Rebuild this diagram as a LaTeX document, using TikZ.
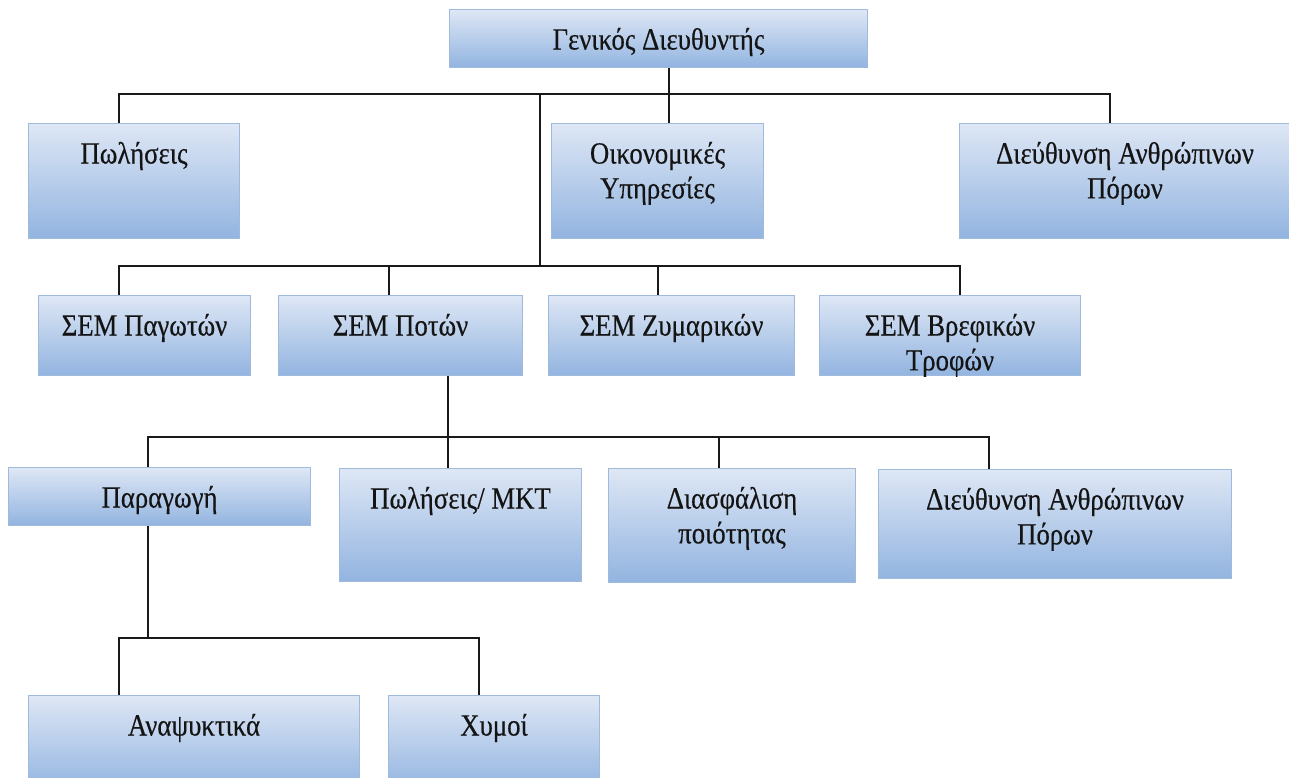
\documentclass[tikz,border=0pt]{standalone}
\usepackage{fontspec}
\setmainfont{Liberation Serif}[FakeStretch=0.87,FakeBold=0.4]
\definecolor{orgtop}{RGB}{222,231,245}
\definecolor{orgbot}{RGB}{146,180,224}
\definecolor{orgedge}{RGB}{160,186,220}
\definecolor{orgtext}{RGB}{20,20,20}
\usetikzlibrary{calc}
% one reference pixel
\newlength\orgpx
\setlength\orgpx{0.02cm}
% box body: width, height (px), text near the top
\newcommand\orgtext[3]{\parbox[c][#2\orgpx][t]{#1\orgpx}{\centering\rule{0pt}{40\orgpx}#3}}

\begin{document}
\begin{tikzpicture}[x=0.02cm,y=-0.02cm,
    unit/.style={draw=orgedge,line width=0.6pt,top color=orgtop,bottom color=orgbot,
                 inner sep=0pt,anchor=north west,text=orgtext,
                 font=\fontsize{17.5}{19.84}\selectfont},
    conn/.style={line width=1.1pt,black!90}]
  \useasboundingbox (0,0) rectangle (1289,778);
  %% Top
  \node[unit] (gd) at (449,9) {\orgtext{418}{58}{Γενικός Διευθυντής}};
  %% Level 1
  \node[unit] (pol)  at (28,123)  {\orgtext{211}{115}{Πωλήσεις}};
  \node[unit] (oik)  at (551,123) {\orgtext{212}{115}{Οικονομικές\\Υπηρεσίες}};
  \node[unit] (dap1) at (959,123) {\orgtext{331}{115}{Διεύθυνση Ανθρώπινων\\Πόρων}};
  %% Level 2
  \node[unit] (pag) at (38,295)  {\orgtext{212}{80}{ΣΕΜ Παγωτών}};
  \node[unit] (pot) at (278,295) {\orgtext{244}{80}{ΣΕΜ Ποτών}};
  \node[unit] (zym) at (548,295) {\orgtext{246}{80}{ΣΕΜ Ζυμαρικών}};
  \node[unit] (vre) at (819,295) {\orgtext{261}{80}{ΣΕΜ Βρεφικών\\Τροφών}};
  %% Level 3
  \node[unit] (par)  at (8,467)   {\orgtext{302}{58}{Παραγωγή}};
  \node[unit] (mkt)  at (339,468) {\orgtext{242}{113}{Πωλήσεις/ MKT}};
  \node[unit] (dia)  at (608,468) {\orgtext{247}{114}{Διασφάλιση\\ποιότητας}};
  \node[unit] (dap2) at (878,469) {\orgtext{353}{109}{Διεύθυνση Ανθρώπινων\\Πόρων}};
  %% Level 4
  \node[unit] (ana) at (28,695)  {\orgtext{331}{95}{Αναψυκτικά}};
  \node[unit] (xym) at (388,695) {\orgtext{211}{95}{Χυμοί}};
  %% Bus points
  \coordinate (a1) at (119,94);  \coordinate (a2) at (1110,94);
  \coordinate (ga) at (669,94);  \coordinate (gb) at (540,94);
  \coordinate (b1) at (119,266); \coordinate (b2) at (960,266);
  \coordinate (bp) at (389,266); \coordinate (bz) at (658,266);
  \coordinate (c1) at (148,437); \coordinate (c2) at (989,437);
  \coordinate (cp) at (448,437); \coordinate (cd) at (719,437);
  \coordinate (d1) at (119,638); \coordinate (d2) at (479,638);
  \coordinate (dp) at (148,638);
  %% Connectors
  \draw[conn] (pol.north -| a1) -- (a1) -- (a2) -- (dap1.north -| a2);
  \draw[conn] (gd.south -| ga) -- (oik.north -| ga);
  \draw[conn] (gb) -- (gb |- b1);
  \draw[conn] (pag.north -| b1) -- (b1) -- (b2) -- (vre.north -| b2);
  \draw[conn] (bp) -- (pot.north -| bp);
  \draw[conn] (bz) -- (zym.north -| bz);
  \draw[conn] (pot.south -| cp) -- (mkt.north -| cp);
  \draw[conn] (par.north -| c1) -- (c1) -- (c2) -- (dap2.north -| c2);
  \draw[conn] (cd) -- (dia.north -| cd);
  \draw[conn] (par.south -| dp) -- (dp);
  \draw[conn] (ana.north -| d1) -- (d1) -- (d2) -- (xym.north -| d2);
\end{tikzpicture}
\end{document}
